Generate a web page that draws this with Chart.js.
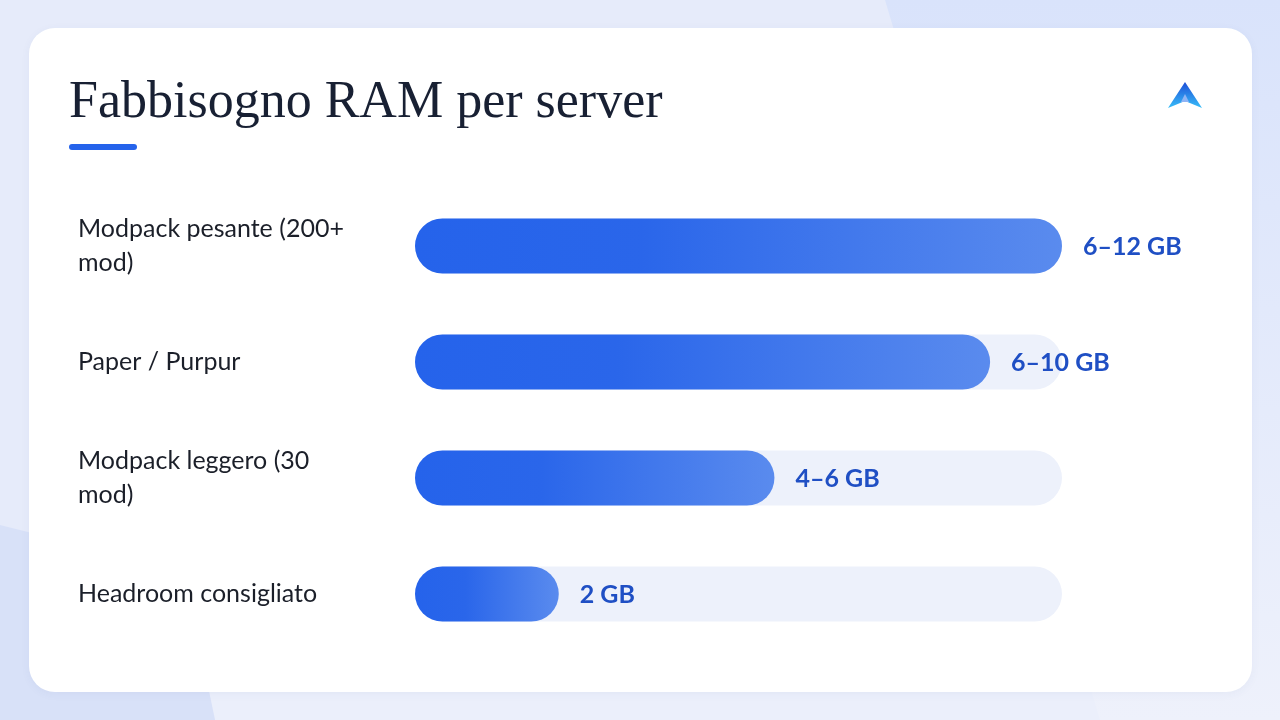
<!DOCTYPE html>
<html>
<head>
<meta charset="utf-8">
<script src="https://cdn.jsdelivr.net/npm/chart.js@4"></script>
<style>
  html, body { margin: 0; padding: 0; }
  body { width: 1280px; height: 720px; position: relative; overflow: hidden; background: #e6ebfa; font-family: Lato, sans-serif; }
  .bg { position: absolute; left: 0; top: 0; }
  .card { position: absolute; left: 29px; top: 28px; width: 1223px; height: 664px; background: #fff; border-radius: 26px; box-shadow: 0 2px 10px rgba(60, 80, 140, 0.05); }
  h1 { position: absolute; left: 69px; top: 70px; margin: 0; font-family: "Liberation Serif", serif; font-weight: normal; font-size: 52px; line-height: normal; color: #182033; }
  .rule { position: absolute; left: 69px; top: 144px; width: 68px; height: 6px; border-radius: 3px; background: #2563eb; }
  .logo { position: absolute; left: 1166px; top: 80px; }
  .wrap { position: absolute; left: 78px; top: 171px; width: 1122px; height: 515px; }
</style>
</head>
<body>
<svg class="bg" width="1280" height="720">
  <defs>
    <linearGradient id="tr" x1="0" y1="0" x2="0" y2="1">
      <stop offset="0" stop-color="#d9e3fb"/>
      <stop offset="1" stop-color="#eef1fb"/>
    </linearGradient>
  </defs>
  <polygon points="215,720 190,600 1280,600 1280,720" fill="#ebeffb"/>
  <polygon points="885,0 1280,0 1280,720 1100,720" fill="url(#tr)"/>
  <polygon points="0,525 60,540 190,600 215,720 0,720" fill="#d8e1f8"/>
</svg>
<div class="card"></div>
<h1>Fabbisogno RAM per server</h1>
<div class="rule"></div>
<svg class="logo" width="38" height="30">
  <defs>
    <linearGradient id="lg" x1="0" y1="0" x2="0" y2="1">
      <stop offset="0" stop-color="#1d4ed8"/>
      <stop offset="1" stop-color="#38bdf8"/>
    </linearGradient>
  </defs>
  <path d="M19,2 L36,28 L19,21 L2,28 Z" fill="url(#lg)"/>
  <path d="M19,14 L23,22 L15,22 Z" fill="#8fb4f5"/>
</svg>
<div class="wrap"><canvas id="ramChart"></canvas></div>

<script>
// dati
const categorie = [
    ['Modpack pesante (200+', 'mod)'],
    'Paper / Purpur',
    ['Modpack leggero (30', 'mod)'],
    'Headroom consigliato'
];
const valori = [9, 8, 5, 2];          // punto medio dell'intervallo, in GB
const etichette = ['6–12 GB', '6–10 GB', '4–6 GB', '2 GB'];
const massimo = 9;
const fondo = categorie.map(() => massimo);

// gradiente per ogni barra
function coloreBarra(ctx) {
    const chart = ctx.chart;
    const x = chart.scales.x;
    if (!chart.chartArea || !x || ctx.type !== 'data') return '#2563eb';
    const x0 = x.getPixelForValue(0);
    const x1 = x.getPixelForValue(ctx.raw);
    const g = chart.ctx.createLinearGradient(x0, 0, x1, 0);
    g.addColorStop(0, '#2563eb');
    g.addColorStop(0.35, '#2a66ea');
    g.addColorStop(1, '#5a8bee');
    return g;
}

// etichette dei valori a destra delle barre
const etichetteValori = {
    id: 'etichetteValori',
    afterDatasetsDraw(chart) {
        const c = chart.ctx;
        const meta = chart.getDatasetMeta(0);
        c.save();
        c.font = 'bold 25px Lato, sans-serif';
        c.fillStyle = '#1f4fc4';
        c.textAlign = 'left';
        c.textBaseline = 'middle';
        meta.data.forEach((bar, i) => {
            c.fillText(etichette[i], bar.x + 21, bar.y + 1);
        });
        c.restore();
    }
};

new Chart(document.getElementById('ramChart').getContext('2d'), {
    type: 'bar',
    data: {
        labels: categorie,
        datasets: [
            {
                data: valori,
                backgroundColor: coloreBarra,
                borderRadius: 30,
                borderSkipped: false,
                grouped: false,
                barPercentage: 1,
                categoryPercentage: 0.474
            },
            {
                data: fondo,
                backgroundColor: '#edf1fb',
                borderRadius: 30,
                borderSkipped: false,
                grouped: false,
                barPercentage: 1,
                categoryPercentage: 0.474
            }
        ]
    },
    options: {
        indexAxis: 'y',
        responsive: true,
        maintainAspectRatio: false,
        animation: false,
        layout: { padding: { left: 0, right: 138, top: 0, bottom: 0 } },
        plugins: { legend: { display: false }, tooltip: { enabled: false } },
        scales: {
            x: { display: false, min: 0, max: massimo },
            y: {
                grid: { display: false, drawTicks: false },
                border: { display: false },
                ticks: {
                    crossAlign: 'far',
                    padding: 0,
                    color: '#1b1f29',
                    font: { family: 'Lato, sans-serif', size: 25, lineHeight: 1.36 }
                },
                afterFit(scale) { scale.width = 337; }
            }
        }
    },
    plugins: [etichetteValori]
});
</script>
</body>
</html>
